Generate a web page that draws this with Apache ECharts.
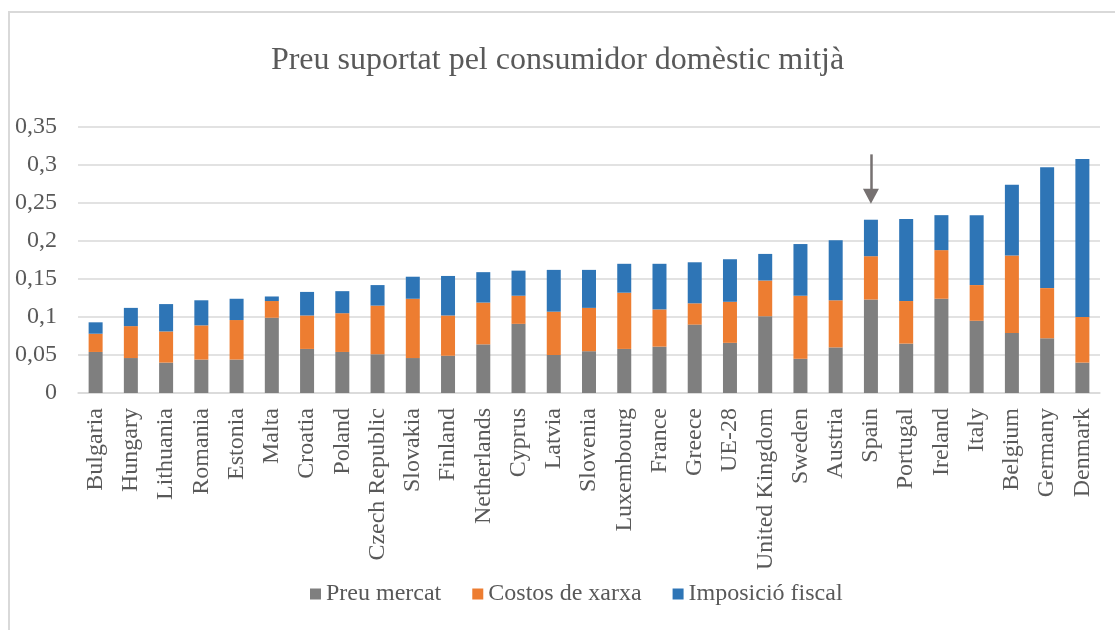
<!DOCTYPE html>
<html>
<head>
<meta charset="utf-8">
<script src="https://cdn.jsdelivr.net/npm/echarts@6/dist/echarts.min.js"></script>
<style>
  html, body { margin: 0; padding: 0; background: #fff; }
  #chart { width: 1115px; height: 630px; }
</style>
</head>
<body>
<div id="chart"></div>
<script>
// Countries, ordered by total domestic price
const categories = ['Bulgaria', 'Hungary', 'Lithuania', 'Romania', 'Estonia', 'Malta', 'Croatia', 'Poland',
  'Czech Republic', 'Slovakia', 'Finland', 'Netherlands', 'Cyprus', 'Latvia', 'Slovenia', 'Luxembourg',
  'France', 'Greece', 'UE-28', 'United Kingdom', 'Sweden', 'Austria', 'Spain', 'Portugal', 'Ireland',
  'Italy', 'Belgium', 'Germany', 'Denmark'];

// Market price component
const preuMercat = [0.054, 0.046, 0.040, 0.044, 0.044, 0.099, 0.058, 0.054,
  0.051, 0.046, 0.049, 0.064, 0.091, 0.050, 0.055, 0.058,
  0.061, 0.090, 0.066, 0.101, 0.045, 0.060, 0.123, 0.065, 0.124,
  0.095, 0.079, 0.072, 0.040];

// Network costs component
const costosXarxa = [0.024, 0.042, 0.041, 0.045, 0.052, 0.022, 0.044, 0.051,
  0.064, 0.078, 0.053, 0.055, 0.037, 0.057, 0.057, 0.074,
  0.049, 0.028, 0.054, 0.047, 0.083, 0.062, 0.057, 0.056, 0.064,
  0.047, 0.102, 0.066, 0.060];

// Taxes and levies component
const imposicioFiscal = [0.015, 0.024, 0.036, 0.033, 0.028, 0.006, 0.031, 0.029,
  0.027, 0.029, 0.052, 0.040, 0.033, 0.055, 0.050, 0.038,
  0.060, 0.054, 0.056, 0.035, 0.068, 0.079, 0.048, 0.108, 0.046,
  0.092, 0.093, 0.159, 0.208];

const seriesNames = ['Preu mercat', 'Costos de xarxa', 'Imposició fiscal'];
const seriesColors = ['#7f7f7f', '#ed7d31', '#2e75b6'];
const yTicks = { min: 0, max: 0.35, interval: 0.05 };

// Arrow pointing down at Spain's bar
const arrowFrom = ['Spain', 0.314];
const arrowTo = ['Spain', 0.259];

const FONT = '"Liberation Serif", "Times New Roman", serif';
const TEXT = '#595959';
const GRIDC = '#d9d9d9';

const chart = echarts.init(document.getElementById('chart'), null, { renderer: 'canvas' });

const values = [preuMercat, costosXarxa, imposicioFiscal];
const series = seriesNames.map((name, i) => ({
  name,
  type: 'bar',
  stack: 'total',
  barWidth: 14,
  itemStyle: { color: seriesColors[i] },
  data: values[i],
  animation: false
}));

series[2].markLine = {
  silent: true,
  animation: false,
  symbol: ['none', 'triangle'],
  symbolSize: [16, 15],
  label: { show: false },
  lineStyle: { color: '#767171', width: 2.5, type: 'solid' },
  emphasis: { disabled: true },
  data: [[{ coord: arrowFrom }, { coord: arrowTo }]]
};

chart.setOption({
  animation: false,
  backgroundColor: '#ffffff',
  title: {
    text: 'Preu suportat pel consumidor domèstic mitjà',
    left: 'center',
    top: 40,
    textStyle: { fontFamily: FONT, fontSize: 32, fontWeight: 'normal', color: TEXT }
  },
  graphic: [{
    type: 'rect',
    shape: { x: 9, y: 12, width: 1200, height: 700 },
    style: { fill: 'none', stroke: GRIDC, lineWidth: 2 },
    silent: true
  }],
  legend: {
    data: seriesNames,
    bottom: 19,
    left: 305,
    icon: 'rect',
    itemWidth: 11,
    itemHeight: 11,
    itemGap: 31,
    textStyle: { fontFamily: FONT, fontSize: 24, color: TEXT }
  },
  grid: { left: 78, right: 15, top: 127, bottom: 237, containLabel: false },
  xAxis: {
    type: 'category',
    data: categories,
    axisLine: { lineStyle: { color: GRIDC, width: 1.5 } },
    axisTick: { show: false },
    axisLabel: {
      interval: 0,
      rotate: 90,
      margin: 15,
      fontFamily: FONT,
      fontSize: 24,
      color: TEXT
    }
  },
  yAxis: {
    type: 'value',
    min: yTicks.min,
    max: yTicks.max,
    interval: yTicks.interval,
    axisLine: { show: false },
    axisTick: { show: false },
    splitLine: { lineStyle: { color: GRIDC, width: 1.5 } },
    axisLabel: {
      margin: 21,
      fontFamily: FONT,
      fontSize: 24,
      color: TEXT,
      formatter: v => String(+v.toFixed(2)).replace('.', ',')
    }
  },
  series
});
</script>
</body>
</html>
